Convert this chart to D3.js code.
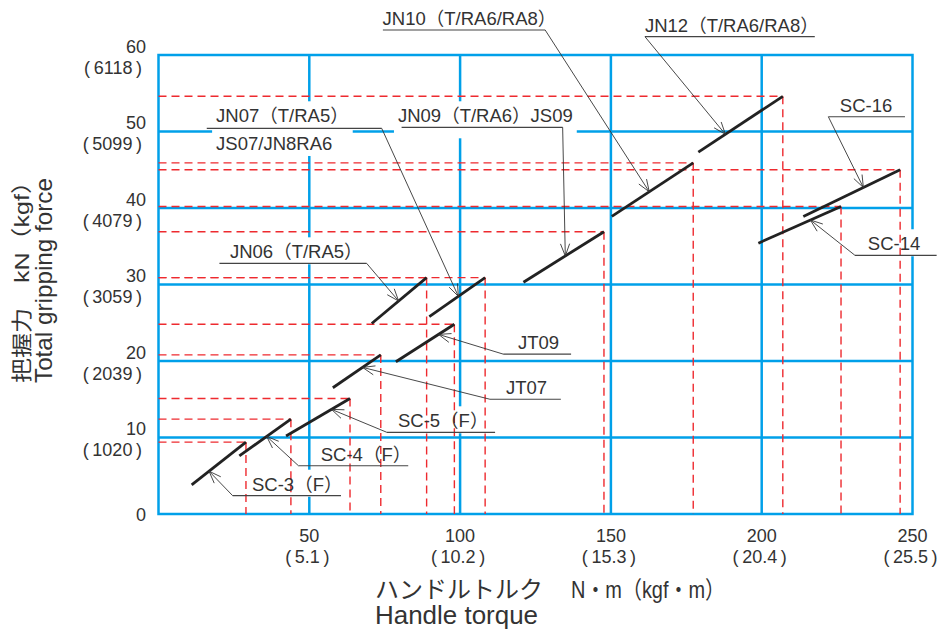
<!DOCTYPE html>
<html>
<head>
<meta charset="utf-8">
<script src="https://cdn.jsdelivr.net/npm/d3@7"></script>
<style>
    body { margin: 0; background: #fff; }
    text { font-family: "Liberation Sans", "Noto Sans CJK JP", sans-serif; fill: #333; }
</style>
</head>
<body>
<div id="chart"></div>
<script>
// ── Data ────────────────────────────────────────────────────────────────────
// Each model is a straight band: handle torque (N·m) vs total gripping force (kN)
const models    = ["SC-3", "SC-4", "SC-5", "JT07", "JT09", "JN06", "JN07", "JN09", "JN10", "JN12", "SC-14", "SC-16"];
const torqueMin = [11.0, 26.8, 42.3, 57.8, 78.7, 70.7, 89.8, 121.0, 150.3, 179.0, 198.9, 213.8];
const torqueMax = [29.0, 43.9, 63.5, 73.7, 98.1, 88.9, 108.3, 147.7, 177.3, 207.0, 226.3, 245.9];
const forceMin  = [3.8, 7.6, 10.2, 16.5, 19.9, 24.9, 25.8, 30.3, 38.9, 47.3, 35.4, 38.9];
const forceMax  = [9.4, 12.4, 15.1, 20.8, 24.8, 30.9, 30.9, 36.9, 45.9, 54.6, 40.2, 45.0];
const labelText = [
    ["SC-3（F）"], ["SC-4（F）"], ["SC-5（F）"], ["JT07"], ["JT09"], ["JN06（T/RA5）"],
    ["JN07（T/RA5）", "JS07/JN8RA6"], ["JN09（T/RA6）JS09"], ["JN10（T/RA6/RA8）"],
    ["JN12（T/RA6/RA8）"], ["SC-14"], ["SC-16"]
];

const xTicks   = [50, 100, 150, 200, 250];
const xTicksKg = ["5.1", "10.2", "15.3", "20.4", "25.5"];
const yTicks   = [0, 10, 20, 30, 40, 50, 60];
const yTicksKg = ["", "1020", "2039", "3059", "4079", "5099", "6118"];

// ── Callout layout (data units): where the arrow hits the band (t along it),
// the underline under the label, which end of it the leader leaves from ────
const callouts = [
    { t: 0.32, tx: 31.0,  uy: 2.39,  ux1: 24.6,  ux2: 60.5,  elbow: "l", box: true },
    { t: 0.53, tx: 53.8,  uy: 6.31,  ux1: 46.4,  ux2: 82.8,  elbow: "l" },
    { t: 0.71, tx: 79.4,  uy: 10.68, ux1: 75.7,  ux2: 111.6, elbow: "l", box: true },
    { t: 0.62, tx: 115.2, uy: 15.0,  ux1: 109.9, ux2: 133.4, elbow: "l" },
    { t: 0.73, tx: 119.2, uy: 20.9,  ux1: 114.3, ux2: 136.8, elbow: "l" },
    { t: 0.49, tx: 23.7,  uy: 32.77, ux1: 20.2,  ux2: 69.0,  elbow: "r", box: true },
    { t: 0.52, tx: 19.1,  uy: 50.42, ux1: 16.0,  ux2: 74.0,  elbow: "r", box: true, split: true },
    { t: 0.52, tx: 79.4,  uy: 50.55, ux1: 80.6,  ux2: 134.0, elbow: "r", box: true, padB: 12 },
    { t: 0.46, tx: 74.3,  uy: 63.27, ux1: 74.4,  ux2: 128.2, elbow: "r" },
    { t: 0.32, tx: 161.3, uy: 62.39, ux1: 161.3, ux2: 217.6, elbow: "l" },
    { t: 0.63, tx: 235.2, uy: 33.82, ux1: 230.9, ux2: 258.0, elbow: "l", box: true },
    { t: 0.62, tx: 225.9, uy: 51.93, ux1: 222.1, ux2: 247.5, elbow: "l" }
];

// ── Setup ───────────────────────────────────────────────────────────────────
const W = 939, H = 631;
const plot = { left: 158.5, right: 912.5, top: 55, bottom: 514 };
const BLUE = "#00a0e9", RED = "#ee2a2f", INK = "#222";

const x = d3.scaleLinear().domain([0, 250]).range([plot.left, plot.right]);
const y = d3.scaleLinear().domain([0, 60]).range([plot.bottom, plot.top]);

const svg = d3.select("#chart").append("svg").attr("width", W).attr("height", H);

const gridG   = svg.append("g");
const boxG    = svg.append("g");
const redG    = svg.append("g");
const segG    = svg.append("g");
const leaderG = svg.append("g");
const textG   = svg.append("g");

// ── Blue grid ───────────────────────────────────────────────────────────────
gridG.append("rect")
    .attr("x", plot.left).attr("y", plot.top)
    .attr("width", plot.right - plot.left).attr("height", plot.bottom - plot.top)
    .attr("fill", "none").attr("stroke", BLUE).attr("stroke-width", 2.5);
gridG.selectAll(".gx").data(xTicks.slice(0, -1)).join("line")
    .attr("x1", d => x(d)).attr("x2", d => x(d))
    .attr("y1", plot.top).attr("y2", plot.bottom)
    .attr("stroke", BLUE).attr("stroke-width", 2.5);
gridG.selectAll(".gy").data(yTicks.slice(1, -1)).join("line")
    .attr("x1", plot.left).attr("x2", plot.right)
    .attr("y1", d => y(d)).attr("y2", d => y(d))
    .attr("stroke", BLUE).attr("stroke-width", 2.5);

// ── Red dashed guides from each band's upper end ────────────────────────────
models.forEach((m, i) => {
    const px = x(torqueMax[i]), py = y(forceMax[i]);
    redG.append("line").attr("x1", plot.left).attr("x2", px).attr("y1", py).attr("y2", py);
    redG.append("line").attr("x1", px).attr("x2", px).attr("y1", py).attr("y2", plot.bottom);
});
redG.selectAll("line")
    .attr("stroke", RED).attr("stroke-width", 1.4).attr("stroke-dasharray", "8,5");

// ── Bands ───────────────────────────────────────────────────────────────────
segG.selectAll("line").data(models).join("line")
    .attr("x1", (d, i) => x(torqueMin[i])).attr("y1", (d, i) => y(forceMin[i]))
    .attr("x2", (d, i) => x(torqueMax[i])).attr("y2", (d, i) => y(forceMax[i]))
    .attr("stroke", INK).attr("stroke-width", 2.8);

// ── Callouts ────────────────────────────────────────────────────────────────
models.forEach((m, i) => {
    const c = callouts[i];
    const tipX = x(torqueMin[i] + c.t * (torqueMax[i] - torqueMin[i]));
    const tipY = y(forceMin[i] + c.t * (forceMax[i] - forceMin[i]));
    const uy = y(c.uy);
    const ex = x(c.elbow === "l" ? c.ux1 : c.ux2);

    leaderG.append("line")
        .attr("x1", x(c.ux1)).attr("x2", x(c.ux2)).attr("y1", uy).attr("y2", uy)
        .attr("stroke", "#444").attr("stroke-width", 1.2);
    leaderG.append("line")
        .attr("x1", ex).attr("y1", uy).attr("x2", tipX).attr("y2", tipY)
        .attr("stroke", "#333").attr("stroke-width", 0.9);

    // open arrowhead
    const ang = Math.atan2(uy - tipY, ex - tipX);
    [-0.36, 0.36].forEach(da => {
        leaderG.append("line")
            .attr("x1", tipX).attr("y1", tipY)
            .attr("x2", tipX + 13 * Math.cos(ang + da))
            .attr("y2", tipY + 13 * Math.sin(ang + da))
            .attr("stroke", "#333").attr("stroke-width", 0.9);
    });

    const lines = labelText[i];
    const baselines = c.split ? [uy - 6, uy + 21.7] : [uy - 5];
    const nodes = lines.map((s, k) => textG.append("text")
        .attr("x", x(c.tx)).attr("y", baselines[k])
        .attr("font-size", 18.5).text(s));

    if (c.box) {
        let x0 = Infinity, y0 = Infinity, x1 = -Infinity, y1 = -Infinity;
        nodes.forEach(n => {
            const b = n.node().getBBox();
            x0 = Math.min(x0, b.x); y0 = Math.min(y0, b.y);
            x1 = Math.max(x1, b.x + b.width); y1 = Math.max(y1, b.y + b.height);
        });
        boxG.append("rect")
            .attr("x", x0 - 4).attr("y", y0 - 4)
            .attr("width", x1 - x0 + 8).attr("height", y1 - y0 + 4 + (c.padB || 2))
            .attr("fill", "#fff");
    }
});

// ── Tick labels ─────────────────────────────────────────────────────────────
const paren = s => `(\u2009${s}\u2009)`;
yTicks.forEach((v, i) => {
    textG.append("text")
        .attr("x", 146).attr("y", v === 0 ? y(v) + 7 : y(v) - 2.5)
        .attr("text-anchor", "end").attr("font-size", 18).attr("fill", "#444")
        .text(v);
    if (yTicksKg[i]) {
        textG.append("text")
            .attr("x", 142).attr("y", y(v) + 18.5)
            .attr("text-anchor", "end").attr("font-size", 18).attr("fill", "#444")
            .text(paren(yTicksKg[i]));
    }
});
xTicks.forEach((v, i) => {
    textG.append("text")
        .attr("x", x(v)).attr("y", 542)
        .attr("text-anchor", "middle").attr("font-size", 18).attr("fill", "#444")
        .text(v);
    textG.append("text")
        .attr("x", x(v) - 2).attr("y", 562.5)
        .attr("text-anchor", "middle").attr("font-size", 18).attr("fill", "#444")
        .text(paren(xTicksKg[i]));
});

// ── Axis titles ─────────────────────────────────────────────────────────────
textG.append("text").attr("x", 375).attr("y", 598).attr("font-size", 24).text("ハンドルトルク");
textG.append("text").attr("x", 571).attr("y", 598).attr("font-size", 24)
    .attr("textLength", 154).attr("lengthAdjust", "spacingAndGlyphs").text("N・m（kgf・m）");
textG.append("text").attr("x", 375).attr("y", 624).attr("font-size", 25)
    .attr("textLength", 163).attr("lengthAdjust", "spacingAndGlyphs").text("Handle torque");

const yTitle = textG.append("g").attr("transform", "translate(29,383) rotate(-90)");
yTitle.append("text").attr("x", 0).attr("y", 0).attr("font-size", 21)
    .attr("textLength", 214).attr("lengthAdjust", "spacingAndGlyphs").text("把握力　kN（kgf）");
yTitle.append("text").attr("x", 0).attr("y", 23).attr("font-size", 24)
    .attr("textLength", 205).attr("lengthAdjust", "spacingAndGlyphs").text("Total gripping force");
</script>
</body>
</html>
